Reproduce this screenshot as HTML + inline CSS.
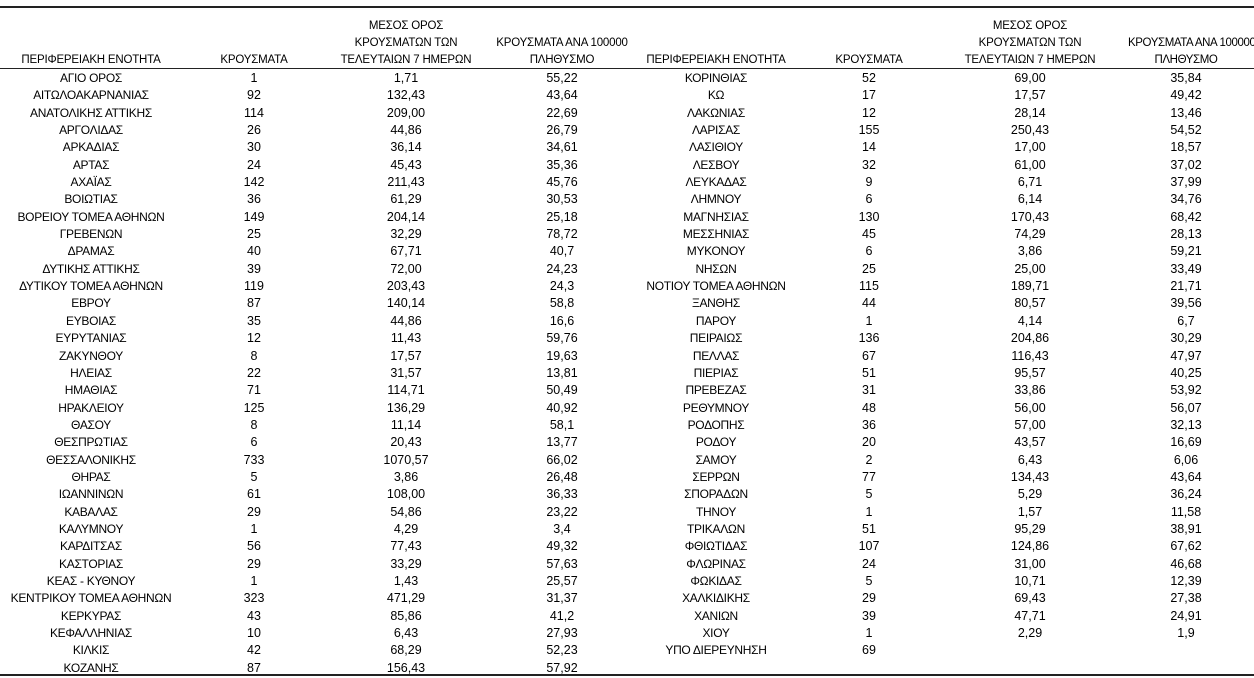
<!DOCTYPE html>
<html><head><meta charset="utf-8"><style>
body{margin:0;width:1254px;height:678px;background:#fff;position:relative;overflow:hidden;font-family:"Liberation Sans","DejaVu Sans",sans-serif;font-size:11.5px;color:#000}
.hl{position:absolute;left:0;width:1254px;background:#222}
.t{position:absolute;top:70px}
.r{height:17.35px;line-height:17.35px;display:flex;white-space:nowrap}
.r div{text-align:center;overflow:visible}
.h{position:absolute;top:18px;display:flex;letter-spacing:-0.2px}
.h div{text-align:center;line-height:17px;height:51px;display:flex;flex-direction:column;justify-content:flex-end;white-space:nowrap}
</style></head><body>
<div class="hl" style="top:6px;height:2px"></div>
<div class="hl" style="top:68px;height:1px"></div>
<div class="hl" style="top:674px;height:2px"></div>

<div class="h" style="left:0">
<div style="width:182px">ΠΕΡΙΦΕΡΕΙΑΚΗ ΕΝΟΤΗΤΑ</div>
<div style="width:144px">ΚΡΟΥΣΜΑΤΑ</div>
<div style="width:160px">ΜΕΣΟΣ ΟΡΟΣ<br>ΚΡΟΥΣΜΑΤΩΝ ΤΩΝ<br>ΤΕΛΕΥΤΑΙΩΝ 7 ΗΜΕΡΩΝ</div>
<div style="width:152px">ΚΡΟΥΣΜΑΤΑ ΑΝΑ 100000<br>ΠΛΗΘΥΣΜΟ</div>
</div>
<div class="h" style="left:626px">
<div style="width:180px">ΠΕΡΙΦΕΡΕΙΑΚΗ ΕΝΟΤΗΤΑ</div>
<div style="width:126px">ΚΡΟΥΣΜΑΤΑ</div>
<div style="width:196px">ΜΕΣΟΣ ΟΡΟΣ<br>ΚΡΟΥΣΜΑΤΩΝ ΤΩΝ<br>ΤΕΛΕΥΤΑΙΩΝ 7 ΗΜΕΡΩΝ</div>
<div style="width:116px;letter-spacing:-0.4px">ΚΡΟΥΣΜΑΤΑ ΑΝΑ 100000<br>ΠΛΗΘΥΣΜΟ</div>
</div>

<div class="t" style="left:0">
<style>.L div:nth-child(1){width:182px}.L div:nth-child(2){width:144px}.L div:nth-child(3){width:160px}.L div:nth-child(4){width:152px}
.R div:nth-child(1){width:180px}.R div:nth-child(2){width:126px}.R div:nth-child(3){width:196px}.R div:nth-child(4){width:116px}
.L div:nth-child(1),.R div:nth-child(1){font-size:12px;letter-spacing:-0.3px}
.L div:nth-child(n+2),.R div:nth-child(n+2){font-size:12.5px}</style>
<div class="r L"><div>ΑΓΙΟ ΟΡΟΣ</div><div>1</div><div>1,71</div><div>55,22</div></div>
<div class="r L"><div>ΑΙΤΩΛΟΑΚΑΡΝΑΝΙΑΣ</div><div>92</div><div>132,43</div><div>43,64</div></div>
<div class="r L"><div>ΑΝΑΤΟΛΙΚΗΣ ΑΤΤΙΚΗΣ</div><div>114</div><div>209,00</div><div>22,69</div></div>
<div class="r L"><div>ΑΡΓΟΛΙΔΑΣ</div><div>26</div><div>44,86</div><div>26,79</div></div>
<div class="r L"><div>ΑΡΚΑΔΙΑΣ</div><div>30</div><div>36,14</div><div>34,61</div></div>
<div class="r L"><div>ΑΡΤΑΣ</div><div>24</div><div>45,43</div><div>35,36</div></div>
<div class="r L"><div>ΑΧΑΪΑΣ</div><div>142</div><div>211,43</div><div>45,76</div></div>
<div class="r L"><div>ΒΟΙΩΤΙΑΣ</div><div>36</div><div>61,29</div><div>30,53</div></div>
<div class="r L"><div>ΒΟΡΕΙΟΥ ΤΟΜΕΑ ΑΘΗΝΩΝ</div><div>149</div><div>204,14</div><div>25,18</div></div>
<div class="r L"><div>ΓΡΕΒΕΝΩΝ</div><div>25</div><div>32,29</div><div>78,72</div></div>
<div class="r L"><div>ΔΡΑΜΑΣ</div><div>40</div><div>67,71</div><div>40,7</div></div>
<div class="r L"><div>ΔΥΤΙΚΗΣ ΑΤΤΙΚΗΣ</div><div>39</div><div>72,00</div><div>24,23</div></div>
<div class="r L"><div>ΔΥΤΙΚΟΥ ΤΟΜΕΑ ΑΘΗΝΩΝ</div><div>119</div><div>203,43</div><div>24,3</div></div>
<div class="r L"><div>ΕΒΡΟΥ</div><div>87</div><div>140,14</div><div>58,8</div></div>
<div class="r L"><div>ΕΥΒΟΙΑΣ</div><div>35</div><div>44,86</div><div>16,6</div></div>
<div class="r L"><div>ΕΥΡΥΤΑΝΙΑΣ</div><div>12</div><div>11,43</div><div>59,76</div></div>
<div class="r L"><div>ΖΑΚΥΝΘΟΥ</div><div>8</div><div>17,57</div><div>19,63</div></div>
<div class="r L"><div>ΗΛΕΙΑΣ</div><div>22</div><div>31,57</div><div>13,81</div></div>
<div class="r L"><div>ΗΜΑΘΙΑΣ</div><div>71</div><div>114,71</div><div>50,49</div></div>
<div class="r L"><div>ΗΡΑΚΛΕΙΟΥ</div><div>125</div><div>136,29</div><div>40,92</div></div>
<div class="r L"><div>ΘΑΣΟΥ</div><div>8</div><div>11,14</div><div>58,1</div></div>
<div class="r L"><div>ΘΕΣΠΡΩΤΙΑΣ</div><div>6</div><div>20,43</div><div>13,77</div></div>
<div class="r L"><div>ΘΕΣΣΑΛΟΝΙΚΗΣ</div><div>733</div><div>1070,57</div><div>66,02</div></div>
<div class="r L"><div>ΘΗΡΑΣ</div><div>5</div><div>3,86</div><div>26,48</div></div>
<div class="r L"><div>ΙΩΑΝΝΙΝΩΝ</div><div>61</div><div>108,00</div><div>36,33</div></div>
<div class="r L"><div>ΚΑΒΑΛΑΣ</div><div>29</div><div>54,86</div><div>23,22</div></div>
<div class="r L"><div>ΚΑΛΥΜΝΟΥ</div><div>1</div><div>4,29</div><div>3,4</div></div>
<div class="r L"><div>ΚΑΡΔΙΤΣΑΣ</div><div>56</div><div>77,43</div><div>49,32</div></div>
<div class="r L"><div>ΚΑΣΤΟΡΙΑΣ</div><div>29</div><div>33,29</div><div>57,63</div></div>
<div class="r L"><div>ΚΕΑΣ - ΚΥΘΝΟΥ</div><div>1</div><div>1,43</div><div>25,57</div></div>
<div class="r L"><div>ΚΕΝΤΡΙΚΟΥ ΤΟΜΕΑ ΑΘΗΝΩΝ</div><div>323</div><div>471,29</div><div>31,37</div></div>
<div class="r L"><div>ΚΕΡΚΥΡΑΣ</div><div>43</div><div>85,86</div><div>41,2</div></div>
<div class="r L"><div>ΚΕΦΑΛΛΗΝΙΑΣ</div><div>10</div><div>6,43</div><div>27,93</div></div>
<div class="r L"><div>ΚΙΛΚΙΣ</div><div>42</div><div>68,29</div><div>52,23</div></div>
<div class="r L"><div>ΚΟΖΑΝΗΣ</div><div>87</div><div>156,43</div><div>57,92</div></div>
</div>

<div class="t" style="left:626px">
<div class="r R"><div>ΚΟΡΙΝΘΙΑΣ</div><div>52</div><div>69,00</div><div>35,84</div></div>
<div class="r R"><div>ΚΩ</div><div>17</div><div>17,57</div><div>49,42</div></div>
<div class="r R"><div>ΛΑΚΩΝΙΑΣ</div><div>12</div><div>28,14</div><div>13,46</div></div>
<div class="r R"><div>ΛΑΡΙΣΑΣ</div><div>155</div><div>250,43</div><div>54,52</div></div>
<div class="r R"><div>ΛΑΣΙΘΙΟΥ</div><div>14</div><div>17,00</div><div>18,57</div></div>
<div class="r R"><div>ΛΕΣΒΟΥ</div><div>32</div><div>61,00</div><div>37,02</div></div>
<div class="r R"><div>ΛΕΥΚΑΔΑΣ</div><div>9</div><div>6,71</div><div>37,99</div></div>
<div class="r R"><div>ΛΗΜΝΟΥ</div><div>6</div><div>6,14</div><div>34,76</div></div>
<div class="r R"><div>ΜΑΓΝΗΣΙΑΣ</div><div>130</div><div>170,43</div><div>68,42</div></div>
<div class="r R"><div>ΜΕΣΣΗΝΙΑΣ</div><div>45</div><div>74,29</div><div>28,13</div></div>
<div class="r R"><div>ΜΥΚΟΝΟΥ</div><div>6</div><div>3,86</div><div>59,21</div></div>
<div class="r R"><div>ΝΗΣΩΝ</div><div>25</div><div>25,00</div><div>33,49</div></div>
<div class="r R"><div>ΝΟΤΙΟΥ ΤΟΜΕΑ ΑΘΗΝΩΝ</div><div>115</div><div>189,71</div><div>21,71</div></div>
<div class="r R"><div>ΞΑΝΘΗΣ</div><div>44</div><div>80,57</div><div>39,56</div></div>
<div class="r R"><div>ΠΑΡΟΥ</div><div>1</div><div>4,14</div><div>6,7</div></div>
<div class="r R"><div>ΠΕΙΡΑΙΩΣ</div><div>136</div><div>204,86</div><div>30,29</div></div>
<div class="r R"><div>ΠΕΛΛΑΣ</div><div>67</div><div>116,43</div><div>47,97</div></div>
<div class="r R"><div>ΠΙΕΡΙΑΣ</div><div>51</div><div>95,57</div><div>40,25</div></div>
<div class="r R"><div>ΠΡΕΒΕΖΑΣ</div><div>31</div><div>33,86</div><div>53,92</div></div>
<div class="r R"><div>ΡΕΘΥΜΝΟΥ</div><div>48</div><div>56,00</div><div>56,07</div></div>
<div class="r R"><div>ΡΟΔΟΠΗΣ</div><div>36</div><div>57,00</div><div>32,13</div></div>
<div class="r R"><div>ΡΟΔΟΥ</div><div>20</div><div>43,57</div><div>16,69</div></div>
<div class="r R"><div>ΣΑΜΟΥ</div><div>2</div><div>6,43</div><div>6,06</div></div>
<div class="r R"><div>ΣΕΡΡΩΝ</div><div>77</div><div>134,43</div><div>43,64</div></div>
<div class="r R"><div>ΣΠΟΡΑΔΩΝ</div><div>5</div><div>5,29</div><div>36,24</div></div>
<div class="r R"><div>ΤΗΝΟΥ</div><div>1</div><div>1,57</div><div>11,58</div></div>
<div class="r R"><div>ΤΡΙΚΑΛΩΝ</div><div>51</div><div>95,29</div><div>38,91</div></div>
<div class="r R"><div>ΦΘΙΩΤΙΔΑΣ</div><div>107</div><div>124,86</div><div>67,62</div></div>
<div class="r R"><div>ΦΛΩΡΙΝΑΣ</div><div>24</div><div>31,00</div><div>46,68</div></div>
<div class="r R"><div>ΦΩΚΙΔΑΣ</div><div>5</div><div>10,71</div><div>12,39</div></div>
<div class="r R"><div>ΧΑΛΚΙΔΙΚΗΣ</div><div>29</div><div>69,43</div><div>27,38</div></div>
<div class="r R"><div>ΧΑΝΙΩΝ</div><div>39</div><div>47,71</div><div>24,91</div></div>
<div class="r R"><div>ΧΙΟΥ</div><div>1</div><div>2,29</div><div>1,9</div></div>
<div class="r R"><div>ΥΠΟ ΔΙΕΡΕΥΝΗΣΗ</div><div>69</div><div></div><div></div></div>
</div>
</body></html>
